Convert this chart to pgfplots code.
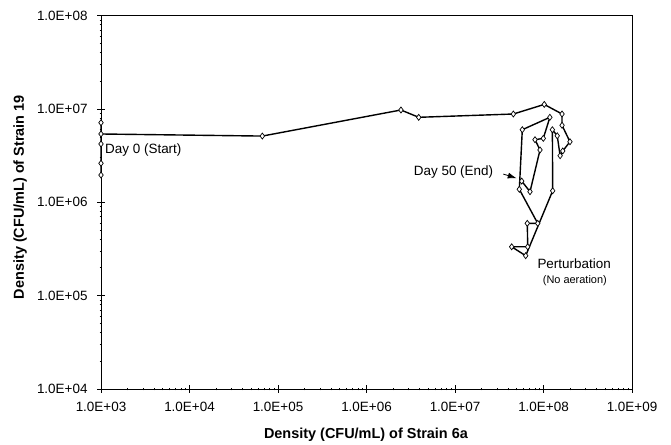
\documentclass[border=0pt]{standalone}
\usepackage{fontspec}
\setmainfont{Liberation Sans}
\usepackage{pgfplots}
\pgfplotsset{compat=1.18}
\usetikzlibrary{arrows.meta}

\begin{document}
\begin{tikzpicture}
\useasboundingbox (-101bp,-56bp) rectangle (570bp,389bp);
\begin{axis}[
  at={(0,0)}, anchor=south west,
  scale only axis, width=531bp, height=373.3bp,
  xmode=log, ymode=log,
  xmin=1e3, xmax=1e9, ymin=1e4, ymax=1e8,
  xtick={1e3,1e4,1e5,1e6,1e7,1e8,1e9},
  xticklabels={1.0E+03,1.0E+04,1.0E+05,1.0E+06,1.0E+07,1.0E+08,1.0E+09},
  ytick={1e4,1e5,1e6,1e7,1e8},
  yticklabels={1.0E+04,1.0E+05,1.0E+06,1.0E+07,1.0E+08},
  minor xtick={}, minor ytick={},
  tick align=center, major tick length=8bp,
  tick pos=left,
  axis line style={line width=0.8bp},
  tick style={black, line width=0.8bp},
  every tick label/.append style={font=\fontsize{13.5}{16}\selectfont},
  xticklabel style={yshift=-6bp},
  yticklabel style={xshift=-6bp},
  clip=false,
]
% trajectory of the two strain densities, day 0 to day 50
\addplot[black, line width=1.4bp, mark=diamond*, mark size=3bp,
         mark options={fill=white, line width=0.7bp}] coordinates {
  (1e3,2.62e6) (1e3,1.96e6) (1e3,4.22e6) (1e3,7.13e6) (1e3,5.40e6)
  (6.65e4,5.13e6) (2.45e6,9.76e6) (3.89e6,8.15e6)
  (4.56e7,8.84e6) (1.02e8,1.12e7) (1.62e8,8.84e6) (1.62e8,6.69e6)
  (1.99e8,4.46e6) (1.65e8,3.55e6) (1.54e8,3.16e6) (1.43e8,5.17e6)
  (1.26e8,6.00e6) (1.27e8,1.33e6) (6.29e7,2.68e5) (4.37e7,3.34e5)
  (6.63e7,3.34e5) (6.56e7,5.96e5) (8.60e7,5.96e5) (5.33e7,1.38e6)
  (5.76e7,6.00e6) (1.18e8,8.15e6) (9.95e7,4.85e6) (8.02e7,4.69e6)
  (9.13e7,3.64e6) (7.04e7,1.30e6) (5.67e7,1.69e6)
};
\node[anchor=west, inner sep=0pt, font=\fontsize{13.5}{16}\selectfont]
  at (axis cs:1.11e3,3.64e6) {Day 0 (Start)};
\node[anchor=east, inner sep=0pt, font=\fontsize{13.5}{16}\selectfont]
  at (axis cs:2.71e7,2.13e6) {Day 50 (End)};
\draw[-{Latex[length=9bp,width=6bp]}, line width=0.8bp]
  (axis cs:3.51e7,2.01e6) -- (axis cs:4.98e7,1.81e6);
\node[anchor=west, inner sep=0pt, font=\fontsize{13.5}{16}\selectfont]
  at (axis cs:8.51e7,2.18e5) {Perturbation};
\node[anchor=west, inner sep=0pt, font=\fontsize{11}{13}\selectfont]
  at (axis cs:9.78e7,1.445e5) {(No aeration)};
\node[font=\fontsize{14.5}{17}\bfseries] at (axis description cs:0.499,-0.123)
  {Density (CFU/mL) of Strain 6a};
\node[rotate=90, font=\fontsize{14.5}{17}\bfseries] at (axis description cs:-0.1525,0.514)
  {Density (CFU/mL) of Strain 19};
\end{axis}
\end{tikzpicture}
\end{document}
